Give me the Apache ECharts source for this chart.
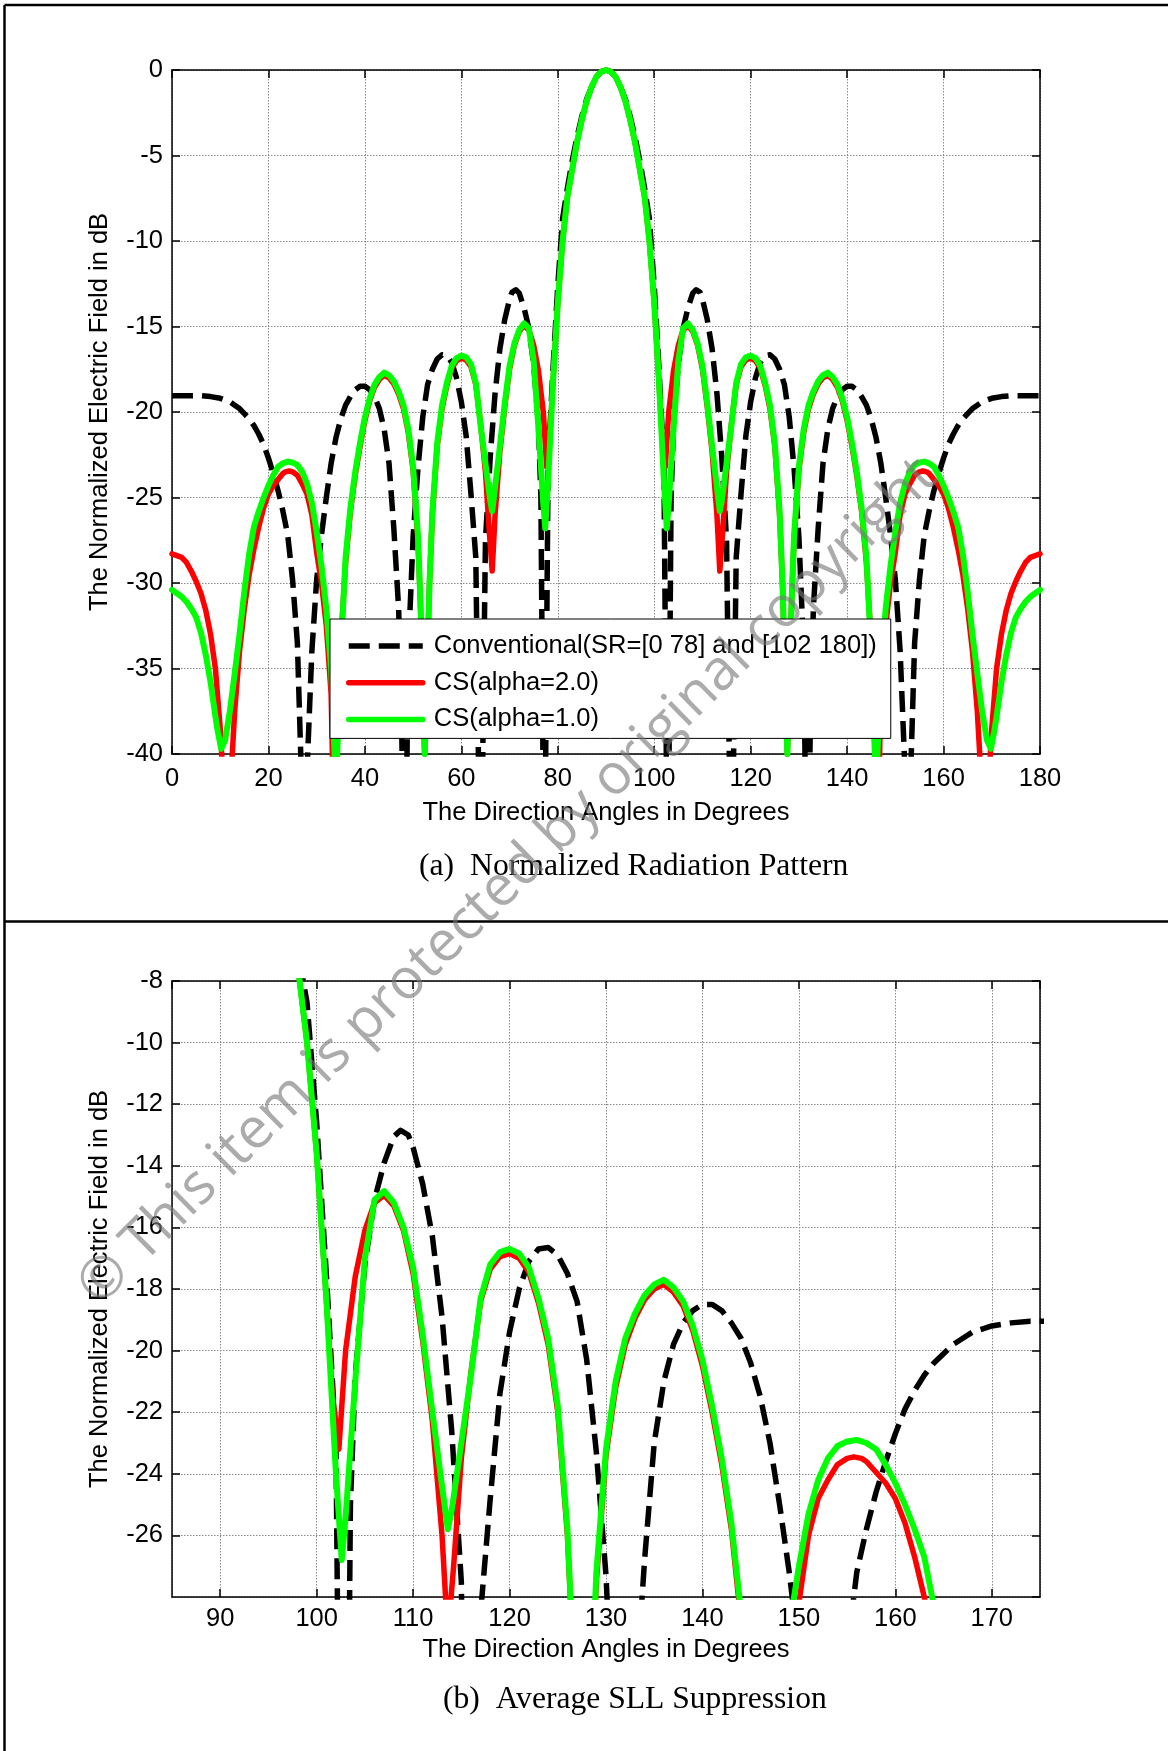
<!DOCTYPE html>
<html>
<head>
<meta charset="utf-8">
<script src="https://cdn.jsdelivr.net/npm/echarts/dist/echarts.min.js"></script>
<style>
html,body{margin:0;padding:0;background:#fff;}
#c{width:1168px;height:1751px;}
</style>
</head>
<body>
<div id="c"></div>
<script>
// ---------------- data ----------------
const xTicksTop = [0, 20, 40, 60, 80, 100, 120, 140, 160, 180];
const yTicksTop = [0, -5, -10, -15, -20, -25, -30, -35, -40];
const xTicksBottom = [90, 100, 110, 120, 130, 140, 150, 160, 170];
const yTicksBottom = [-8, -10, -12, -14, -16, -18, -20, -22, -24, -26];

const seriesNames = ['Conventional(SR=[0 78] and [102 180])', 'CS(alpha=2.0)', 'CS(alpha=1.0)'];

const convAngles = [0,2,4,6,8,10,12,13,14,15,16,17,18,19,20,21,22,23,24,25,26,26.8,27.4,28,29,30,31,32,33,34,35,36,37,38,39,40,41,42,43,44,45,46,47,47.6,48.3,49,50,51,52,53,54,55,56,57,58,59,60,61,62,63,64,65,66,67,68,69,70,70.5,71.3,72,73,74,75,76,76.5,77.2,78,79,80,81,82,83,84,85,86,87,88,89,
90,91,92,93,94,95,96,97,98,99,100,101,102,102.8,103.5,104,105,106,107,108,108.7,109.5,110,111,112,113,114,115,116,117,118,119,120,121,122,123,124,125,126,127,128,129,130,131,131.7,132.4,133,134,135,136,137,138,139,140,141,142,143,144,145,146,147,148,149,150,151,152,152.6,153.2,154,155,156,157,158,159,160,161,162,163,164,165,166,167,168,170,172,174,176,178,180];
const convDb = [-19.05,-19.05,-19.05,-19.05,-19.1,-19.2,-19.4,-19.6,-19.8,-20.1,-20.4,-20.8,-21.3,-21.9,-22.7,-23.6,-24.6,-25.8,-27.2,-29.8,-33.5,-41,-50,-41,-34,-29.8,-27.2,-25.0,-23.0,-21.5,-20.4,-19.6,-19.1,-18.7,-18.5,-18.5,-18.7,-19.1,-19.8,-21.0,-23.0,-26.8,-31.5,-38,-50,-34,-27.3,-23.3,-20.3,-18.4,-17.5,-16.9,-16.65,-16.7,-17.1,-18.0,-19.4,-21.4,-24.8,-28.5,-50,-27.5,-22.6,-18.9,-16.3,-14.6,-13.4,-13.0,-12.85,-13.05,-13.9,-15.1,-17.2,-20.8,-25,-50,-23.0,-17.5,-12.6,-8.7,-6.9,-5.3,-3.9,-2.7,-1.7,-1.0,-0.4,-0.1,
0,-0.1,-0.4,-1.0,-1.7,-2.7,-3.9,-5.3,-6.9,-8.7,-12.6,-17.5,-23.0,-50,-25,-20.8,-17.2,-15.1,-13.9,-13.05,-12.85,-13.0,-13.4,-14.6,-16.3,-18.9,-22.6,-27.5,-50,-28.5,-24.8,-21.4,-19.4,-18.0,-17.1,-16.7,-16.65,-16.9,-17.5,-18.4,-20.3,-23.3,-27.3,-34,-50,-38,-31.5,-26.8,-23.0,-21.0,-19.8,-19.1,-18.7,-18.5,-18.5,-18.7,-19.1,-19.6,-20.4,-21.5,-23.0,-25.0,-27.2,-29.8,-34,-41,-50,-41,-33.5,-29.8,-27.2,-25.8,-24.6,-23.6,-22.7,-21.9,-21.3,-20.8,-20.4,-20.1,-19.8,-19.6,-19.4,-19.2,-19.1,-19.05,-19.05,-19.05,-19.05];

const cs2Angles = [0,1,2,3,4,5,6,7,8,9,10,10.4,11.4,12.4,13,14,15,16,17,18,19,20,21,22,23,23.5,24.3,25,26,27,28,29,30,31,32,33,33.7,34.4,35,36,37,38,39,40,41,42,43,44,45,46,47,48,49,50,51,51.5,52.4,53.4,54,55,56,57,58,59,60,61,62,63,64,65,65.8,66.4,67,68,69,70,71,72,73,74,75,76,77,77.7,78.4,79,80,81,82,83,84,85,86,87,88,89,
90,91,92,93,94,95,96,97,98,99,100,101,101.6,102.3,103,104,105,106,107,108,109,110,111,112,113,113.6,114.2,115,116,117,118,119,120,121,122,123,124,125,126,126.6,127.6,128.5,129,130,131,132,133,134,135,136,137,138,139,140,141,142,143,144,145,145.6,146.3,147,148,149,150,151,152,153,154,155,155.7,156.5,157,158,159,160,161,162,163,164,165,166,167,167.6,168.6,169.6,170,171,172,173,174,175,176,177,178,179,180];
const cs2Db = [-28.3,-28.4,-28.5,-28.8,-29.3,-29.9,-30.6,-31.6,-33.0,-35.0,-38.5,-40.5,-50,-40.5,-37.5,-34.0,-31.5,-29.5,-28.0,-26.7,-25.6,-24.8,-24.3,-23.95,-23.6,-23.5,-23.45,-23.5,-23.7,-24.2,-24.8,-26.0,-28.2,-30.0,-32.5,-36.5,-46,-38,-33.5,-28.8,-25.8,-23.7,-22.0,-20.5,-19.35,-18.55,-18.1,-17.85,-18.0,-18.35,-18.95,-19.8,-21.2,-23.4,-27.5,-31,-40,-30,-26.0,-22.0,-19.8,-18.45,-17.45,-17.0,-16.85,-16.95,-17.35,-18.4,-20.7,-23.5,-27.0,-29.3,-26.0,-22.3,-19.7,-17.5,-16.1,-15.3,-14.95,-15.2,-16.1,-17.6,-20.0,-23.2,-21.3,-18.3,-13.6,-10.0,-7.4,-5.8,-4.2,-2.9,-1.8,-1.0,-0.4,-0.1,
0,-0.1,-0.4,-1.0,-1.8,-2.9,-4.2,-5.8,-7.4,-10.0,-13.6,-18.3,-21.3,-23.2,-20.0,-17.6,-16.1,-15.2,-14.95,-15.3,-16.1,-17.5,-19.7,-22.3,-26.0,-29.3,-27.0,-23.5,-20.7,-18.4,-17.35,-16.95,-16.85,-17.0,-17.45,-18.45,-19.8,-22.0,-26.0,-30,-40,-31,-27.5,-23.4,-21.2,-19.8,-18.95,-18.35,-18.0,-17.85,-18.1,-18.55,-19.35,-20.5,-22.0,-23.7,-25.8,-28.8,-33.5,-38,-46,-36.5,-32.5,-30.0,-28.2,-26.0,-24.8,-24.2,-23.7,-23.5,-23.45,-23.5,-23.6,-23.95,-24.3,-24.8,-25.6,-26.7,-28.0,-29.5,-31.5,-34.0,-37.5,-40.5,-50,-40.5,-38.5,-35.0,-33.0,-31.6,-30.6,-29.9,-29.3,-28.8,-28.5,-28.4,-28.3];

const cs1Angles = [0,1,2,3,4,5,6,7,8,9,9.5,10.2,11,12,13,14,15,16,17,18,19,20,21,22,23,24,25,26,27,28,29,30,31,32,33,34,35,36,37,38,39,40,41,42,43,44,45,46,47,48,49,50,51,51.5,52.4,53.4,54,55,56,57,58,59,60,61,62,63,64,65,66,66.4,67,68,69,70,71,72,73,74,75,76,77,77.4,78,79,80,81,82,83,84,85,86,87,88,89,
90,91,92,93,94,95,96,97,98,99,100,101,102,102.6,103,104,105,106,107,108,109,110,111,112,113,113.6,114,115,116,117,118,119,120,121,122,123,124,125,126,126.6,127.6,128.5,129,130,131,132,133,134,135,136,137,138,139,140,141,142,143,144,145,146,147,148,149,150,151,152,153,154,155,156,157,158,159,160,161,162,163,164,165,166,167,168,169,169.8,170.5,171,172,173,174,175,176,177,178,179,180];
const cs1Db = [-30.4,-30.6,-30.8,-31.1,-31.5,-32.0,-32.9,-34.2,-35.8,-37.8,-38.7,-39.7,-39.2,-37.5,-35.3,-33.0,-30.5,-28.3,-26.7,-25.8,-25.0,-24.3,-23.7,-23.2,-23.0,-22.9,-22.95,-23.1,-23.5,-24.2,-25.3,-27.0,-29.0,-31.5,-35,-42,-34,-28.5,-25.6,-23.5,-21.8,-20.3,-19.2,-18.4,-17.95,-17.7,-17.85,-18.2,-18.8,-19.6,-21.0,-23.2,-27.2,-31,-40,-30,-25.8,-21.8,-19.6,-18.3,-17.3,-16.85,-16.7,-16.8,-17.2,-18.3,-20.8,-23.0,-25.2,-25.8,-24.4,-22.0,-19.5,-17.3,-16.0,-15.2,-14.82,-15.1,-17.0,-21.0,-25.4,-26.8,-24.0,-18.3,-13.6,-10.0,-7.4,-5.8,-4.2,-2.9,-1.8,-1.0,-0.4,-0.1,
0,-0.1,-0.4,-1.0,-1.8,-2.9,-4.2,-5.8,-7.4,-10.0,-13.6,-18.3,-24.0,-26.8,-25.4,-21.0,-17.0,-15.1,-14.82,-15.2,-16.0,-17.3,-19.5,-22.0,-24.4,-25.8,-25.2,-23.0,-20.8,-18.3,-17.2,-16.8,-16.7,-16.85,-17.3,-18.3,-19.6,-21.8,-25.8,-30,-40,-31,-27.2,-23.2,-21.0,-19.6,-18.8,-18.2,-17.85,-17.7,-17.95,-18.4,-19.2,-20.3,-21.8,-23.5,-25.6,-28.5,-34,-42,-35,-31.5,-29.0,-27.0,-25.3,-24.2,-23.5,-23.1,-22.95,-22.9,-23.0,-23.2,-23.7,-24.3,-25.0,-25.8,-26.7,-28.3,-30.5,-33.0,-35.3,-37.5,-39.2,-39.7,-38.7,-37.8,-35.8,-34.2,-32.9,-32.0,-31.5,-31.1,-30.8,-30.6,-30.4];

// ---------------- chart ----------------
const SANS = '"Liberation Sans", Arial, Helvetica, sans-serif';
const SERIF = '"Liberation Serif", "Times New Roman", serif';
const FS = 25.5;

function pairs(a, d) {
  const n = Math.min(a.length, d.length);
  const out = [];
  for (let i = 0; i < n; i++) out.push([a[i], d[i]]);
  return out;
}

const gridLine = { show: true, lineStyle: { color: '#8a8a8a', width: 1, type: [1.5, 1.5] } };
const axLine = { show: true, onZero: false, lineStyle: { color: '#000', width: 1.5 } };
const tickIn = { show: true, inside: true, length: 8, lineStyle: { color: '#000', width: 1.5 } };
const lblStyle = (margin, extra) => Object.assign({ color: '#000', fontSize: FS, fontFamily: SANS, margin: margin }, extra || {});
const nameStyle = { color: '#000', fontSize: FS, fontFamily: SANS };

const styles = [
  { color: '#000000', width: 5.5, type: [21, 9], cap: 'butt', join: 'round' },
  { color: '#ff0000', width: 5.5, type: 'solid', cap: 'round', join: 'round' },
  { color: '#00ff00', width: 6, type: 'solid', cap: 'round', join: 'round' }
];
const datas = [pairs(convAngles, convDb), pairs(cs2Angles, cs2Db), pairs(cs1Angles, cs1Db)];

const series = [];
[0, 1].forEach(function (g) {
  for (let k = 0; k < 3; k++) {
    series.push({
      type: 'line',
      name: seriesNames[k],
      xAxisIndex: g * 2,
      yAxisIndex: g * 2,
      data: datas[k],
      showSymbol: false,
      symbol: 'none',
      clip: true,
      smooth: false,
      lineStyle: styles[k],
      itemStyle: { color: styles[k].color },
      emphasis: { disabled: true },
      z: 2 + k
    });
  }
});

const option = {
  animation: false,
  backgroundColor: '#ffffff',
  grid: [
    { left: 172, top: 70, width: 868, height: 684 },
    { left: 172, top: 981, width: 868, height: 616 }
  ],
  xAxis: [
    { gridIndex: 0, type: 'value', position: 'bottom', min: xTicksTop[0], max: xTicksTop[xTicksTop.length - 1], interval: 20,
      axisLine: axLine, axisTick: tickIn, splitLine: gridLine, axisLabel: lblStyle(12),
      name: 'The Direction Angles in Degrees', nameLocation: 'middle', nameGap: 46, nameTextStyle: nameStyle },
    { gridIndex: 0, type: 'value', position: 'top', min: 0, max: 180, interval: 20,
      axisLine: axLine, axisTick: tickIn, splitLine: { show: false }, axisLabel: { show: false } },
    { gridIndex: 1, type: 'value', position: 'bottom', min: 85, max: 175, splitNumber: 9, minInterval: 10, maxInterval: 10,
      axisLine: axLine, axisTick: tickIn, splitLine: gridLine,
      axisLabel: lblStyle(9, { showMinLabel: false, showMaxLabel: false }),
      name: 'The Direction Angles in Degrees', nameLocation: 'middle', nameGap: 40, nameTextStyle: nameStyle },
    { gridIndex: 1, type: 'value', position: 'top', min: 85, max: 175, splitNumber: 9, minInterval: 10, maxInterval: 10,
      axisLine: axLine, axisTick: tickIn, splitLine: { show: false }, axisLabel: { show: false } }
  ],
  yAxis: [
    { gridIndex: 0, type: 'value', position: 'left', min: yTicksTop[yTicksTop.length - 1], max: yTicksTop[0], interval: 5,
      axisLine: axLine, axisTick: tickIn, splitLine: gridLine, axisLabel: lblStyle(9),
      name: 'The Normalized Electric Field in dB', nameLocation: 'middle', nameRotate: 90, nameGap: 59, nameTextStyle: nameStyle },
    { gridIndex: 0, type: 'value', position: 'right', min: -40, max: 0, interval: 5,
      axisLine: axLine, axisTick: tickIn, splitLine: { show: false }, axisLabel: { show: false } },
    { gridIndex: 1, type: 'value', position: 'left', min: -28, max: yTicksBottom[0], interval: 2,
      axisLine: axLine, axisTick: tickIn, splitLine: gridLine, axisLabel: lblStyle(9, { showMinLabel: false }),
      name: 'The Normalized Electric Field in dB', nameLocation: 'middle', nameRotate: 90, nameGap: 59, nameTextStyle: nameStyle },
    { gridIndex: 1, type: 'value', position: 'right', min: -28, max: -8, interval: 2,
      axisLine: axLine, axisTick: tickIn, splitLine: { show: false }, axisLabel: { show: false } }
  ],
  legend: {
    show: true,
    orient: 'vertical',
    left: 330,
    top: 619,
    padding: [14, 14, 6, 16],
    itemWidth: 74,
    itemHeight: 26,
    itemGap: 10.7,
    backgroundColor: '#ffffff',
    borderColor: '#000000',
    borderWidth: 1,
    borderRadius: 0,
    selectedMode: false,
    itemStyle: { opacity: 0, borderWidth: 0 },
    lineStyle: { width: 5.5 },
    textStyle: { color: '#000', fontSize: FS, fontFamily: SANS, lineHeight: 26, padding: [0, 0, 0, 6] },
    data: seriesNames,
    z: 10
  },
  series: series,
  graphic: [
    { type: 'line', z: 50, shape: { x1: 4.5, y1: 5, x2: 1168, y2: 5 }, style: { stroke: '#000', lineWidth: 2.5 } },
    { type: 'line', z: 50, shape: { x1: 4.5, y1: 5, x2: 4.5, y2: 1751 }, style: { stroke: '#000', lineWidth: 2.5 } },
    { type: 'line', z: 50, shape: { x1: 4.5, y1: 921.5, x2: 1168, y2: 921.5 }, style: { stroke: '#000', lineWidth: 2.5 } },
    { type: 'text', z: 50, x: 419, y: 867, style: { text: '(a)  Normalized Radiation Pattern', fontSize: 31.7, fontFamily: SERIF, fill: '#000', align: 'left', verticalAlign: 'middle' } },
    { type: 'text', z: 50, x: 443, y: 1700, style: { text: '(b)  Average SLL Suppression', fontSize: 31.6, fontFamily: SERIF, fill: '#000', align: 'left', verticalAlign: 'middle' } },
    { type: 'text', z: 100, x: 508, y: 882, rotation: 44.6 * Math.PI / 180,
      style: { text: '\u00A9 This item is protected by original copyright', fontSize: 56.5, fontFamily: '"Open Sans", "Noto Sans", sans-serif', fill: 'rgba(120,120,120,0.62)', align: 'center', verticalAlign: 'middle' } }
  ]
};

const chart = echarts.init(document.getElementById('c'), null, { renderer: 'canvas', width: 1168, height: 1751 });
chart.setOption(option);
</script>
</body>
</html>
